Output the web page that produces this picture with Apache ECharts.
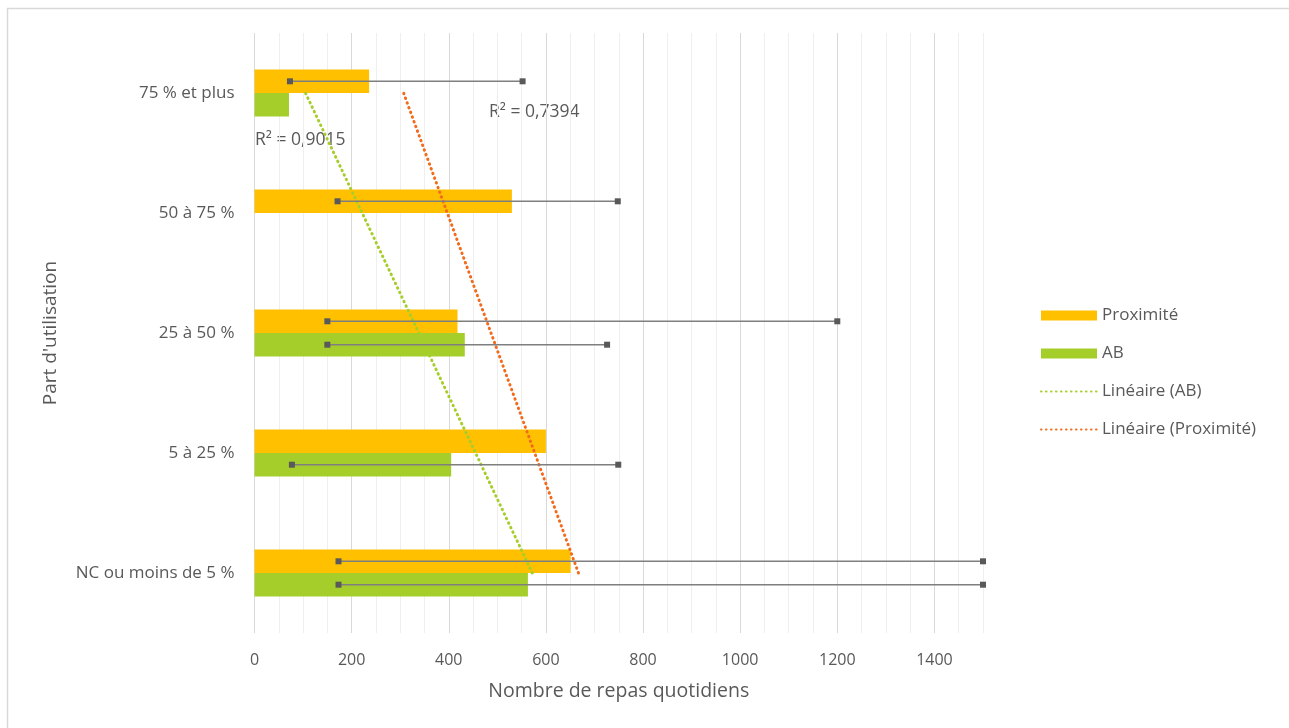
<!DOCTYPE html>
<html>
<head>
<meta charset="utf-8">
<script src="https://cdn.jsdelivr.net/npm/echarts@6/dist/echarts.min.js"></script>
<style>html,body{margin:0;padding:0;background:#fff;}#c{width:1289px;height:728px;}</style>
</head>
<body>
<div id="c"></div>
<script>
// Data (categories from bottom to top)
const categories = ['NC ou moins de 5 %', '5 à 25 %', '25 à 50 %', '50 à 75 %', '75 % et plus'];
const proximite = [651, 600, 418, 530, 236];
const ab = [563, 405, 433, null, 71];
// error ranges [categoryIndex, min, max]
const proxRange = [[0, 173, 1500], [2, 150, 1200], [3, 171, 748], [4, 73, 552]];
const abRange = [[0, 173, 1500], [1, 77, 749], [2, 150, 726]];
// trend line end values (at first and last category)
const abTrendEnds = [572, 105];
const proxTrendEnds = [667, 307];
const r2Labels = ['R² = 0,9015', 'R² = 0,7394'];
const xTickLabels = [0, 200, 400, 600, 800, 1000, 1200, 1400];

const FONT = 'Open Sans';
const GRAY = '#595959';
const GAP = 0.61;

function errRender(sign) {
  return function (params, api) {
    const cat = api.value(0), lo = api.value(1), hi = api.value(2);
    const p1 = api.coord([lo, cat]);
    const p2 = api.coord([hi, cat]);
    const band = api.size([0, 1])[1];
    const y = p1[1] + sign * band * (1 - GAP) / 4;
    const s = 6;
    return {
      type: 'group',
      children: [
        {type: 'line', shape: {x1: p1[0], y1: y, x2: p2[0], y2: y}, style: {stroke: '#7f7f7f', lineWidth: 1.5}},
        {type: 'rect', shape: {x: p1[0] - s / 2, y: y - s / 2, width: s, height: s}, style: {fill: GRAY}},
        {type: 'rect', shape: {x: p2[0] - s / 2, y: y - s / 2, width: s, height: s}, style: {fill: GRAY}}
      ]
    };
  };
}

const chart = echarts.init(document.getElementById('c'));
const last = categories.length - 1;
chart.setOption({
  animation: false,
  backgroundColor: '#fff',
  textStyle: {fontFamily: FONT},
  grid: {left: 254.5, right: 306, top: 33, bottom: 95, containLabel: false},
  legend: {
    orient: 'vertical', left: 1035, top: 302,
    itemWidth: 56, itemHeight: 10, itemGap: 21,
    textStyle: {color: GRAY, fontSize: 17, fontFamily: FONT},
    data: [
      {name: 'Proximité', icon: 'rect'},
      {name: 'AB', icon: 'rect'},
      {name: 'Linéaire (AB)', itemStyle: {opacity: 0}},
      {name: 'Linéaire (Proximité)', itemStyle: {opacity: 0}}
    ]
  },
  xAxis: {
    type: 'value', min: 0, max: 1500, interval: 50,
    axisLine: {show: false}, axisTick: {show: false},
    axisLabel: {
      color: GRAY, fontSize: 16, margin: 19, fontFamily: FONT,
      formatter: function (v) { return xTickLabels.indexOf(v) >= 0 ? String(v) : ''; }
    },
    splitLine: {show: true, lineStyle: {color: ['#d9d9d9', '#efefef', '#efefef', '#efefef'], width: 1}},
    name: 'Nombre de repas quotidiens', nameLocation: 'middle', nameGap: 48,
    nameTextStyle: {color: GRAY, fontSize: 19.5, fontFamily: FONT}
  },
  yAxis: {
    type: 'category', data: categories,
    axisLine: {show: false}, axisTick: {show: false},
    axisLabel: {color: GRAY, fontSize: 17, margin: 20, fontFamily: FONT},
    name: "Part d'utilisation", nameLocation: 'middle', nameRotate: 90, nameGap: 194,
    nameTextStyle: {color: GRAY, fontSize: 19, fontFamily: FONT}
  },
  graphic: [
    {type: 'rect', silent: true, z: -10, shape: {x: 7.5, y: 8.5, width: 1400, height: 900}, style: {fill: 'none', stroke: '#d9d9d9', lineWidth: 1.5}},
    {type: 'text', left: 255, top: 131, style: {text: r2Labels[0], fill: GRAY, fontSize: 17.5, fontFamily: FONT}},
    {type: 'text', left: 489, top: 103, style: {text: r2Labels[1], fill: GRAY, fontSize: 17.5, fontFamily: FONT}}
  ],
  series: [
    {name: 'Proximité', type: 'bar', data: proximite, barCategoryGap: (GAP * 100) + '%', barGap: '0%',
      itemStyle: {color: '#FFC000'}, z: 2},
    {name: 'AB', type: 'bar', data: ab, barCategoryGap: (GAP * 100) + '%', barGap: '0%',
      itemStyle: {color: '#A6CE2A'}, z: 2},
    {name: 'Linéaire (AB)', type: 'line', symbol: 'none', z: 4,
      data: [[abTrendEnds[0], 0], [abTrendEnds[1], last]],
      lineStyle: {color: '#A6CE2A', width: 3, type: [0.5, 4.5], cap: 'round'}, itemStyle: {color: '#A6CE2A'}},
    {name: 'Linéaire (Proximité)', type: 'line', symbol: 'none', z: 4,
      data: [[proxTrendEnds[0], 0], [proxTrendEnds[1], last]],
      lineStyle: {color: '#F26B1D', width: 3, type: [0.5, 4.5], cap: 'round'}, itemStyle: {color: '#F26B1D'}},
    {name: 'errProx', type: 'custom', renderItem: errRender(-1), data: proxRange, encode: {x: [1, 2], y: 0}, z: 5},
    {name: 'errAB', type: 'custom', renderItem: errRender(1), data: abRange, encode: {x: [1, 2], y: 0}, z: 5}
  ]
});
</script>
</body>
</html>
